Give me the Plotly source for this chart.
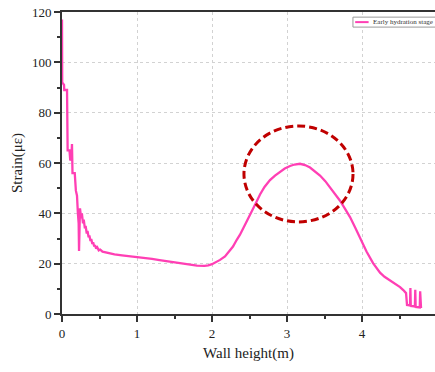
import plotly.graph_objects as go

# Data
wall_height = [
    0.000, 0.003, 0.027, 0.030, 0.067, 0.075, 0.100, 0.110, 0.125, 0.133,
    0.140, 0.170, 0.185, 0.200, 0.212, 0.222, 0.227, 0.240, 0.255, 0.265,
    0.280, 0.290, 0.305, 0.315, 0.330, 0.340, 0.355, 0.365, 0.380, 0.390,
    0.405, 0.415, 0.430, 0.440, 0.455, 0.470, 0.490, 0.510, 0.540, 0.570,
    0.600, 0.650, 0.700, 0.800, 0.900, 1.000, 1.100, 1.200, 1.300, 1.400,
    1.500, 1.600, 1.700, 1.800, 1.900, 1.950, 2.000, 2.050, 2.107, 2.173,
    2.230, 2.280, 2.330, 2.373, 2.440, 2.500, 2.547, 2.600, 2.640, 2.700,
    2.773, 2.840, 2.907, 2.970, 3.040, 3.100, 3.173, 3.240, 3.307, 3.370,
    3.440, 3.510, 3.573, 3.640, 3.707, 3.770, 3.840, 3.910, 3.973, 4.060,
    4.147, 4.240, 4.300, 4.373, 4.440, 4.507, 4.550, 4.587, 4.600, 4.640,
    4.645, 4.650, 4.705, 4.710, 4.715, 4.770, 4.775, 4.787,
]
strain = [
    117, 92, 91, 89, 89, 65, 65, 61, 62, 67.5,
    56, 56, 49, 47, 40, 36, 25, 42, 38, 40,
    36, 37.5, 34, 35, 32, 33, 30.5, 31.2, 29, 29.8,
    27.8, 28.5, 26.8, 27.4, 26, 26.5, 25.3, 25.6, 24.8, 24.6,
    24.2, 24.0, 23.7, 23.3, 23.0, 22.7, 22.3, 21.9, 21.4, 20.9,
    20.4, 19.9, 19.5, 19.2, 19.1, 19.3, 19.8, 20.5, 21.5, 22.9,
    24.8, 26.8, 29.5, 31.5, 35.5, 38.8, 41.8, 45.0, 47.5, 50.5,
    53.2, 55.0, 56.6, 57.8, 58.8, 59.4, 59.7, 59.2, 58.2, 56.8,
    55.0, 52.8, 50.4, 47.8, 45.0, 42.0, 38.5, 34.3, 30.2, 24.8,
    20.2, 16.4, 14.8, 13.4, 12.0, 10.7, 9.5, 8.3, 3.6, 3.4,
    10.3, 3.2, 3.0, 9.6, 2.8, 2.6, 9.0, 2.4,
]
series_name = "Early hydration stage"
x_ticks = [0, 1, 2, 3, 4, 5]
y_ticks = [0, 20, 40, 60, 80, 100, 120]
# highlighted region (ellipse) in data units
ellipse_x = [2.426, 3.880]
ellipse_y = [36.6, 74.7]

PINK = "#ff3fb4"
FONT = "Liberation Serif"
AXC = "#333333"

fig = go.Figure()
fig.add_trace(go.Scatter(
    x=wall_height, y=strain, mode="lines", name=series_name,
    line=dict(color=PINK, width=2.3), showlegend=False,
))

fig.add_shape(type="circle", xref="x", yref="y",
              x0=ellipse_x[0], x1=ellipse_x[1], y0=ellipse_y[0], y1=ellipse_y[1],
              line=dict(color="#c00000", width=3, dash="8px,4px"))

# manual legend (top-right, reaching the figure edge like the reference)
fig.add_shape(type="rect", xref="paper", yref="paper",
              x0=0.780, x1=1.05, y0=0.950, y1=0.983,
              line=dict(color="#9a9a9a", width=1), fillcolor="white")
fig.add_shape(type="line", xref="paper", yref="paper",
              x0=0.786, x1=0.822, y0=0.9665, y1=0.9665,
              line=dict(color=PINK, width=2))
fig.add_annotation(xref="paper", yref="paper", x=0.828, y=0.9665,
                   xanchor="left", yanchor="middle", showarrow=False,
                   text=series_name, font=dict(family=FONT, size=7, color="#333"))

fig.update_layout(
    width=435, height=372,
    margin=dict(l=62, r=0, t=12, b=58),
    paper_bgcolor="white", plot_bgcolor="white",
    font=dict(family=FONT, color="#222", size=13),
)
fig.update_xaxes(
    range=[0, 4.973], tickvals=x_ticks, ticktext=[str(v) for v in x_ticks],
    showline=True, linecolor=AXC, linewidth=2, mirror=True,
    ticks="outside", ticklen=6, tickwidth=1.5, tickcolor=AXC,
    minor=dict(dtick=0.5, ticks="outside", ticklen=3, tickcolor=AXC, showgrid=False),
    showgrid=True, gridcolor="#d2d2d2", griddash="dot", gridwidth=1,
    zeroline=False,
    title=dict(text="Wall height(m)", font=dict(family=FONT, size=15, color="#222"), standoff=8),
    tickfont=dict(family=FONT, size=13, color="#222"),
)
fig.update_yaxes(
    range=[0, 120], tickvals=y_ticks, ticktext=[str(v) for v in y_ticks],
    showline=True, linecolor=AXC, linewidth=2, mirror=False,
    ticks="outside", ticklen=6, tickwidth=1.5, tickcolor=AXC,
    minor=dict(dtick=10, ticks="outside", ticklen=3, tickcolor=AXC, showgrid=False),
    showgrid=True, gridcolor="#d2d2d2", griddash="dot", gridwidth=1,
    zeroline=False,
    title=dict(text="Strain(με)", font=dict(family=FONT, size=15, color="#222"), standoff=6),
    tickfont=dict(family=FONT, size=13, color="#222"),
)

fig.write_html("out.html")
